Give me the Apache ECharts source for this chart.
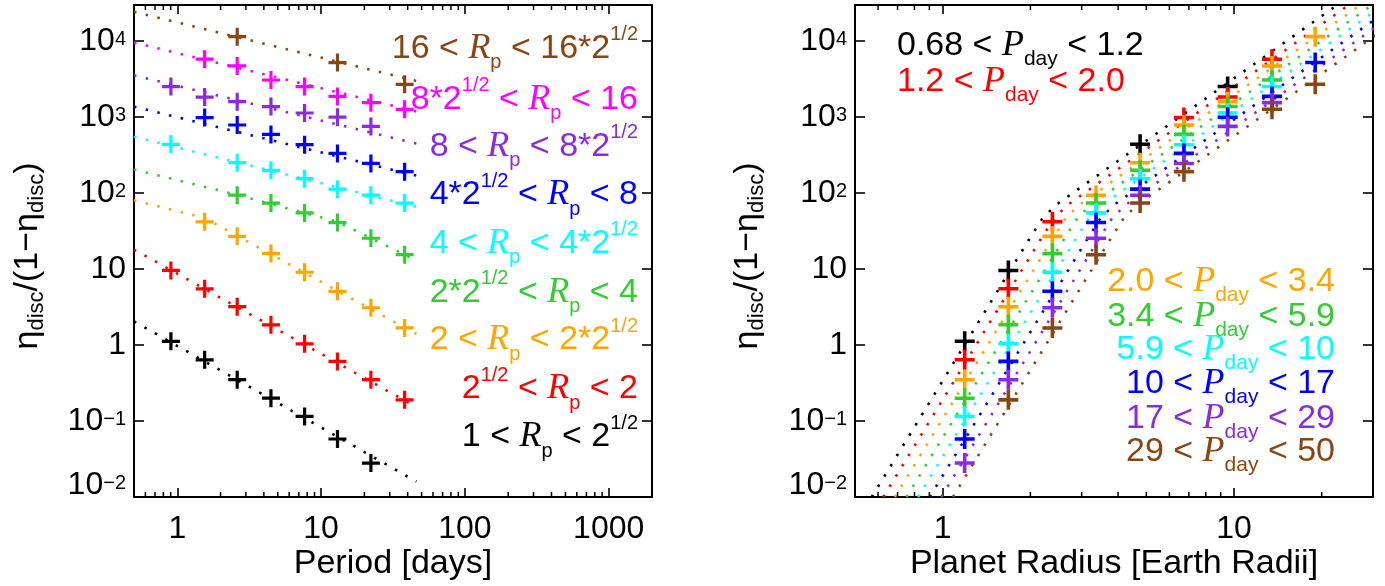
<!DOCTYPE html>
<html><head><meta charset="utf-8">
<script src="https://cdn.jsdelivr.net/npm/echarts@6/dist/echarts.min.js"></script>
<style>html,body{margin:0;padding:0;background:#fff}#c{width:1385px;height:586px}</style>
</head><body><div id="c"></div>
<script>
// ---------- data ----------
// bin centres
const periodCenters = [0.903, 1.55, 2.61, 4.48, 7.68, 13.0, 22.2, 38.1];
const radiusCenters = [1.19, 1.68, 2.38, 3.36, 4.76, 6.73, 9.51, 13.5, 19.0];

// eta/(1-eta) per radius bin, one value per period bin (null = no point)
const etaR1 = [1.12, 0.64, 0.35, 0.20, 0.115, 0.058, 0.028, null];   // 1 < Rp < 2^1/2
const etaR2 = [9.6, 5.5, 3.2, 1.85, 1.04, 0.61, 0.35, 0.19];          // 2^1/2 < Rp < 2
const etaR3 = [null, 42, 27, 16, 9.1, 5.1, 3.1, 1.68];                // 2 < Rp < 2*2^1/2
const etaR4 = [null, null, 94, 74, 55, 41, 25.5, 15.5];               // 2*2^1/2 < Rp < 4
const etaR5 = [440, null, 252, 200, 155, 113, 94, 74];                // 4 < Rp < 4*2^1/2
const etaR6 = [null, 990, 790, 594, 435, 334, 246, 192];              // 4*2^1/2 < Rp < 8
const etaR7 = [2530, 1840, 1600, 1380, 1135, 1000, 757, null];        // 8 < Rp < 8*2^1/2
const etaR8 = [null, 5800, 4730, 3090, 2530, 1880, 1555, 1270];       // 8*2^1/2 < Rp < 16
const etaR9 = [null, null, 11500, null, null, 5240, null, 2710];      // 16 < Rp < 16*2^1/2
const etaRows = [etaR1, etaR2, etaR3, etaR4, etaR5, etaR6, etaR7, etaR8, etaR9];

// left panel fit lines: [period, value]
const fitR1 = [[0.5, 2.05], [46, 0.016]];
const fitR2 = [[0.5, 18.1], [46, 0.153]];
const fitR3 = [[0.5, 80.8], [1.55, 47], [46, 1.4]];
const fitR4 = [[0.5, 205], [2.61, 95], [13, 42], [46, 13]];
const fitR5 = [[0.5, 554], [46, 66]];
const fitR6 = [[0.5, 1377], [46, 170]];
const fitR7 = [[0.5, 3560], [46, 450]];
const fitR8 = [[0.5, 9620], [46, 1190]];
const fitR9 = [[0.5, 24400], [46, 3000]];
const fitRows = [fitR1, fitR2, fitR3, fitR4, fitR5, fitR6, fitR7, fitR8, fitR9];

// right panel model curves: shared value levels, radius read per period bin
const curveLevels = [0.01, 25.8, 47.8, 71, 35500];
const curveP1 = [0.5705, 1.994, 2.210, 2.462, 24.05];
const curveP2 = [0.6254, 2.185, 2.422, 2.700, 26.35];
const curveP3 = [0.6853, 2.395, 2.654, 2.958, 28.88];
const curveP4 = [0.7510, 2.625, 2.909, 3.242, 31.65];
const curveP5 = [0.8233, 2.877, 3.188, 3.553, 34.69];
const curveP6 = [0.9022, 3.153, 3.494, 3.894, 38.02];
const curveP7 = [0.9888, 3.455, 3.829, 4.268, 41.67];
const curveP8 = [1.084, 3.787, 4.197, 4.677, 45.66];
const curveRows = [curveP1, curveP2, curveP3, curveP4, curveP5, curveP6, curveP7, curveP8];

// minor tick values
const minorTicksPeriod = [0.6,0.7,0.8,0.9,2,3,4,5,6,7,8,9,20,30,40,50,60,70,80,90,200,300,400,500,600,700,800,900];
const minorTicksRadius = [0.6,0.7,0.8,0.9,2,3,4,5,6,7,8,9,20];

// colours
const radiusColors = ['#000000','#ff0000','#ffa500','#32cd32','#00ffff','#0000ff','#8a2be2','#ff00ff','#8b4513'];
const periodColors = ['#000000','#ff0000','#ffa500','#32cd32','#00ffff','#0000ff','#8a2be2','#8b4513'];

// legend texts
const leftLegend = [
  '{n|16 < }{it|R}{sub|p}{n| < 16*2}{sup|1/2}',
  '{n|8*2}{sup|1/2}{n| < }{it|R}{sub|p}{n| < 16}',
  '{n|8 < }{it|R}{sub|p}{n| < 8*2}{sup|1/2}',
  '{n|4*2}{sup|1/2}{n| < }{it|R}{sub|p}{n| < 8}',
  '{n|4 < }{it|R}{sub|p}{n| < 4*2}{sup|1/2}',
  '{n|2*2}{sup|1/2}{n| < }{it|R}{sub|p}{n| < 4}',
  '{n|2 < }{it|R}{sub|p}{n| < 2*2}{sup|1/2}',
  '{n|2}{sup|1/2}{n| < }{it|R}{sub|p}{n| < 2}',
  '{n|1 < }{it|R}{sub|p}{n| < 2}{sup|1/2}'
];
const leftLegendColors = ['#8b4513','#ff00ff','#8a2be2','#0000ff','#00ffff','#32cd32','#ffa500','#ff0000','#000000'];
const rightLegendTop = ['{n|0.68 < }{it|P}{sub|day}{n| < 1.2}', '{n|1.2 < }{it|P}{sub|day}{n| < 2.0}'];
const rightLegendBottom = [
  '{n|2.0 < }{it|P}{sub|day}{n| < 3.4}',
  '{n|3.4 < }{it|P}{sub|day}{n| < 5.9}',
  '{n|5.9 < }{it|P}{sub|day}{n| < 10}',
  '{n|10 < }{it|P}{sub|day}{n| < 17}',
  '{n|17 < }{it|P}{sub|day}{n| < 29}',
  '{n|29 < }{it|P}{sub|day}{n| < 50}'
];
const rightLegendBottomColors = ['#ffa500','#32cd32','#00ffff','#0000ff','#8a2be2','#8b4513'];

// ---------- styling ----------
const SANS = '"Liberation Sans", Arial, Helvetica, sans-serif';
const SERIF = '"Liberation Serif", "Times New Roman", serif';
const plusPath = 'path://M-1.6,-9L1.6,-9L1.6,-1.6L9,-1.6L9,1.6L1.6,1.6L1.6,9L-1.6,9L-1.6,1.6L-9,1.6L-9,-1.6L-1.6,-1.6Z';

const G0 = {left: 134, top: 5, width: 518, height: 492};
const G1 = {left: 855, top: 5, width: 518, height: 492};

function isPow(v) { const l = Math.log10(v); return Math.abs(l - Math.round(l)) < 1e-6; }
function yLabel(v) {
  if (!isPow(v)) return '';
  const e = Math.round(Math.log10(v));
  if (e === 0) return '{n|1}';
  if (e === 1) return '{n|10}';
  return '{n|10}{s|' + String(e).replace('-', '\u2212') + '}';
}
function xLabel(v) {
  if (!isPow(v)) return '';
  const e = Math.round(Math.log10(v));
  if (e < 0) return '';
  return '{n|' + Math.round(v) + '}';
}
const yRich = {
  n: {fontFamily: SANS, fontSize: 32, lineHeight: 24, color: '#000'},
  s: {fontFamily: SANS, fontSize: 20, lineHeight: 9, verticalAlign: 'top', color: '#000'}
};
const xRich = { n: {fontFamily: SANS, fontSize: 32, lineHeight: 34, color: '#000'} };

const axLine = {show: true, onZero: false, lineStyle: {color: '#000', width: 2}};
function xAx(grid, min, max, pos, labels) {
  return {
    type: 'log', logBase: 10, gridIndex: grid, min: min, max: max, position: pos,
    axisLine: axLine,
    axisTick: {show: true, inside: true, length: 9, lineStyle: {color: '#000', width: 1.6}},
    axisLabel: labels ? {show: true, formatter: xLabel, rich: xRich, margin: 15, showMinLabel: true, showMaxLabel: true, hideOverlap: false} : {show: false},
    splitLine: {show: false}, minorTick: {show: false}, minorSplitLine: {show: false}
  };
}
function yAx(grid, pos, labels) {
  return {
    type: 'log', logBase: 10, gridIndex: grid, min: 0.01, max: 30000, position: pos,
    axisLine: axLine,
    axisTick: {show: true, inside: true, length: 10, lineStyle: {color: '#000', width: 1.6}},
    axisLabel: labels ? {show: true, formatter: yLabel, rich: yRich, margin: 8, showMinLabel: true, showMaxLabel: true,
      verticalAlignMinLabel: 'bottom', hideOverlap: false} : {show: false},
    splitLine: {show: false}
  };
}

function minorTickItem(params, api) {
  const cs = params.coordSys;
  const x = api.coord([api.value(0), 1])[0];
  const yb = cs.y + cs.height, yt = cs.y;
  return {type: 'group', children: [
    {type: 'line', shape: {x1: x, y1: yb, x2: x, y2: yb - 5}, style: {stroke: '#000', lineWidth: 1.5}},
    {type: 'line', shape: {x1: x, y1: yt, x2: x, y2: yt + 5}, style: {stroke: '#000', lineWidth: 1.5}}
  ]};
}

const dotted = [2.5, 9.5];
const series = [];
// left panel fit lines and points
fitRows.forEach((row, i) => {
  series.push({type: 'line', xAxisIndex: 0, yAxisIndex: 0, data: row, symbol: 'none', silent: true, z: 2,
    lineStyle: {color: radiusColors[i], width: 2.6, type: dotted, cap: 'butt'}});
});
etaRows.forEach((row, i) => {
  const d = []; row.forEach((v, j) => { if (v != null) d.push([periodCenters[j], v]); });
  series.push({type: 'scatter', xAxisIndex: 0, yAxisIndex: 0, data: d, symbol: plusPath, symbolSize: 18, z: 3,
    itemStyle: {color: radiusColors[i], opacity: 1}, silent: true});
});
// right panel model curves and points
curveRows.forEach((row, j) => {
  series.push({type: 'line', xAxisIndex: 2, yAxisIndex: 2, data: row.map((r, k) => [r, curveLevels[k]]), symbol: 'none',
    silent: true, z: 2, clip: true, lineStyle: {color: periodColors[j], width: 2.6, type: dotted, cap: 'butt'}});
});
periodColors.forEach((c, j) => {
  const d = []; etaRows.forEach((row, i) => { if (row[j] != null) d.push([radiusCenters[i], row[j]]); });
  series.push({type: 'scatter', xAxisIndex: 2, yAxisIndex: 2, data: d, symbol: plusPath, symbolSize: 20, z: 3,
    itemStyle: {color: c, opacity: 1}, silent: true});
});
// minor ticks
series.push({type: 'custom', xAxisIndex: 0, yAxisIndex: 0, data: minorTicksPeriod.map(v => [v, 1]), renderItem: minorTickItem, clip: false, silent: true, z: 5});
series.push({type: 'custom', xAxisIndex: 2, yAxisIndex: 2, data: minorTicksRadius.map(v => [v, 1]), renderItem: minorTickItem, clip: false, silent: true, z: 5});

// ---------- texts ----------
const legRich = {
  n: {fontFamily: SANS, fontSize: 34, lineHeight: 48},
  it: {fontFamily: SERIF, fontStyle: 'italic', fontSize: 36, lineHeight: 48},
  sup: {fontFamily: SANS, fontSize: 20, lineHeight: 28, verticalAlign: 'top'},
  sub: {fontFamily: SANS, fontSize: 20, lineHeight: 31, verticalAlign: 'bottom'}
};
const legRichP = Object.assign({}, legRich, {sub: {fontFamily: SANS, fontSize: 21, lineHeight: 22, verticalAlign: 'bottom'}});
const leftLegendY = [48.3, 99.3, 146.7, 195, 243.3, 292.3, 340, 389, 437];
const rightTopY = [45.7, 81.7];
const rightBottomY = [281.5, 316.7, 350, 383.3, 418.3, 452];

const graphics = [];
leftLegend.forEach((t, i) => graphics.push({type: 'text', x: 638, y: leftLegendY[i], silent: true,
  style: {text: t, rich: legRich, fill: leftLegendColors[i], align: 'right', verticalAlign: 'middle', fontFamily: SANS, fontSize: 34}}));
rightLegendTop.forEach((t, i) => graphics.push({type: 'text', x: 897, y: rightTopY[i], silent: true,
  style: {text: t, rich: legRichP, fill: periodColors[i], align: 'left', verticalAlign: 'middle', fontFamily: SANS, fontSize: 34}}));
rightLegendBottom.forEach((t, i) => graphics.push({type: 'text', x: 1335, y: rightBottomY[i], silent: true,
  style: {text: t, rich: legRichP, fill: rightLegendBottomColors[i], align: 'right', verticalAlign: 'middle', fontFamily: SANS, fontSize: 34}}));

const titleRich = {
  e: {fontFamily: SANS, fontSize: 34, lineHeight: 40},
  d: {fontFamily: SANS, fontSize: 22, lineHeight: 28, verticalAlign: 'bottom'}
};
const yTitle = '{e|\u03b7}{d|disc}{e|/(1\u2212\u03b7}{d|disc}{e|)}';
graphics.push({type: 'text', x: 28, y: 256, rotation: Math.PI / 2, silent: true,
  style: {text: yTitle, rich: titleRich, fill: '#000', align: 'center', verticalAlign: 'middle'}});
graphics.push({type: 'text', x: 748, y: 256, rotation: Math.PI / 2, silent: true,
  style: {text: yTitle, rich: titleRich, fill: '#000', align: 'center', verticalAlign: 'middle'}});
graphics.push({type: 'text', x: 393, y: 564, silent: true,
  style: {text: 'Period [days]', fill: '#000', fontFamily: SANS, fontSize: 34, align: 'center', verticalAlign: 'middle'}});
graphics.push({type: 'text', x: 1114, y: 564, silent: true,
  style: {text: 'Planet Radius [Earth Radii]', fill: '#000', fontFamily: SANS, fontSize: 34, align: 'center', verticalAlign: 'middle'}});

const chart = echarts.init(document.getElementById('c'), null, {renderer: 'canvas'});
chart.setOption({
  animation: false,
  backgroundColor: '#ffffff',
  grid: [Object.assign({containLabel: false}, G0), Object.assign({containLabel: false}, G1)],
  xAxis: [xAx(0, 0.5, 2000, 'bottom', true), xAx(0, 0.5, 2000, 'top', false), xAx(1, 0.5, 30, 'bottom', true), xAx(1, 0.5, 30, 'top', false)],
  yAxis: [yAx(0, 'left', true), yAx(0, 'right', false), yAx(1, 'left', true), yAx(1, 'right', false)],
  series: series,
  graphic: graphics
});
</script></body></html>
